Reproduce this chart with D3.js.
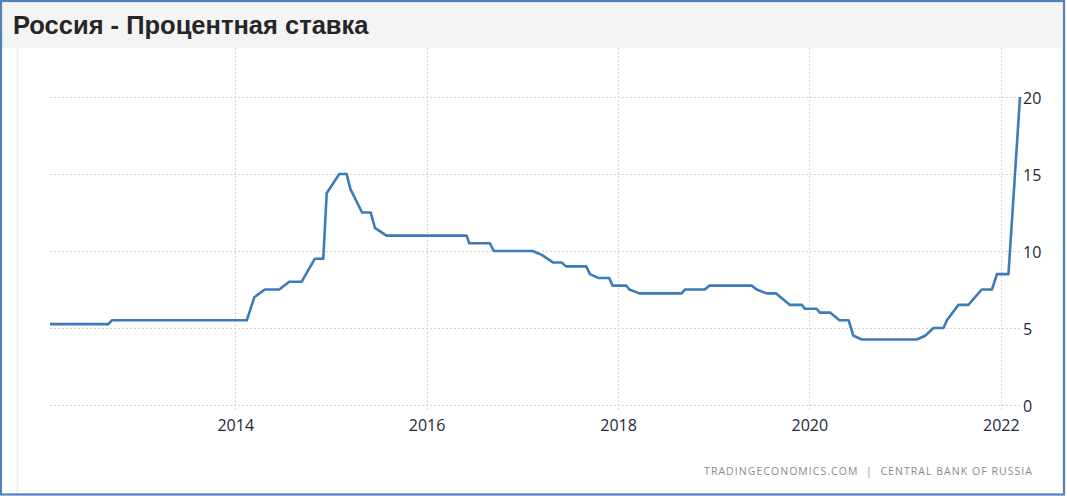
<!DOCTYPE html>
<html><head><meta charset="utf-8">
<script src="https://cdn.jsdelivr.net/npm/d3@7"></script>
<style>html,body{margin:0;padding:0;background:#fff;}svg{display:block;}</style>
</head><body>
<script>
const title = "Россия - Процентная ставка";
const source = "TRADINGECONOMICS.COM  |  CENTRAL BANK OF RUSSIA";
const dates = ["2012-01-25","2012-09-04","2012-09-17","2014-02-14","2014-03-15","2014-04-24","2014-06-18","2014-07-26","2014-09-11","2014-11-01","2014-12-03","2014-12-16","2015-02-02","2015-03-02","2015-03-17","2015-04-30","2015-06-02","2015-06-18","2015-08-01","2016-06-02","2016-06-12","2016-08-30","2016-09-14","2017-02-09","2017-03-16","2017-04-29","2017-05-31","2017-06-16","2017-09-01","2017-09-16","2017-10-17","2017-11-28","2017-12-11","2018-02-01","2018-02-13","2018-03-23","2018-09-01","2018-09-13","2018-11-28","2018-12-15","2019-05-26","2019-06-14","2019-07-22","2019-08-26","2019-10-19","2019-12-03","2019-12-15","2020-01-29","2020-02-10","2020-03-20","2020-04-25","2020-05-30","2020-06-17","2020-07-20","2021-02-14","2021-03-18","2021-04-19","2021-05-27","2021-06-09","2021-07-23","2021-08-30","2021-10-20","2021-11-28","2021-12-17","2022-01-30","2022-03-15"];
const rates = [5.25,5.25,5.5,5.5,7.0,7.5,7.5,8.0,8.0,9.5,9.5,13.75,15.0,15.0,14.0,12.5,12.5,11.5,11.0,11.0,10.5,10.5,10.0,10.0,9.75,9.25,9.25,9.0,9.0,8.5,8.25,8.25,7.75,7.75,7.5,7.25,7.25,7.5,7.5,7.75,7.75,7.5,7.25,7.25,6.5,6.5,6.25,6.25,6.0,6.0,5.5,5.5,4.5,4.25,4.25,4.5,5.0,5.0,5.5,6.5,6.5,7.5,7.5,8.5,8.5,20.0];
const xTickYears = [2014, 2016, 2018, 2020, 2022];
const yTicks = [0, 5, 10, 15, 20];

const W = 1067, H = 496;
const parse = d3.timeParse("%Y-%m-%d");
const data = dates.map((d, i) => ({date: parse(d), value: rates[i]}));

const svg = d3.select("body").append("svg").attr("width", W).attr("height", H);

// title bar
svg.append("rect").attr("x", 2).attr("y", 2).attr("width", 1061).attr("height", 46).attr("fill", "#f4f4f4");
svg.append("text").attr("x", 13).attr("y", 33.5).text(title)
  .attr("font-family", "'Liberation Sans', Arial, sans-serif").attr("font-weight", "bold")
  .attr("font-size", 25.5).attr("fill", "#262626");

// left panel line
svg.append("line").attr("x1", 17.5).attr("x2", 17.5).attr("y1", 48).attr("y2", 494)
  .attr("stroke", "#ececec").attr("stroke-width", 1.5);

const x = d3.scaleTime().domain(d3.extent(data, d => d.date)).range([50, 1020]);
const y = d3.scaleLinear().domain([0, 20]).range([405, 97]);

const tickDates = xTickYears.map(yr => new Date(yr, 0, 1));
const font = "'Segoe UI', 'Open Sans', 'Noto Sans', sans-serif";

// vertical grid
svg.append("g").selectAll("line").data(tickDates).join("line")
  .attr("x1", d => Math.round(x(d)) + 0.5).attr("x2", d => Math.round(x(d)) + 0.5)
  .attr("y1", 48).attr("y2", 412)
  .attr("stroke", "#d4d4d4").attr("stroke-dasharray", "2,2");

// horizontal grid
svg.append("g").selectAll("line").data(yTicks).join("line")
  .attr("x1", 50).attr("x2", 1020)
  .attr("y1", d => Math.round(y(d)) + 0.5).attr("y2", d => Math.round(y(d)) + 0.5)
  .attr("stroke", "#d4d4d4").attr("stroke-dasharray", "2,2");

// axes via d3 axis generators (styled)
const xAxis = svg.append("g").attr("transform", "translate(0,411)")
  .call(d3.axisBottom(x).tickValues(tickDates).tickFormat(d3.timeFormat("%Y")).tickSize(0).tickPadding(9));
xAxis.select(".domain").remove();
xAxis.selectAll("text").attr("font-family", font).attr("font-size", 16).attr("fill", "#26263a");

const yAxis = svg.append("g").attr("transform", "translate(1020,0)")
  .call(d3.axisRight(y).tickValues(yTicks).tickFormat(d3.format("d")).tickSize(0).tickPadding(3));
yAxis.select(".domain").remove();
yAxis.selectAll("text").attr("font-family", font).attr("font-size", 16).attr("fill", "#26263a").attr("dy", "0.4em");

// line
svg.append("path").datum(data)
  .attr("fill", "none").attr("stroke", "#3a7bb8").attr("stroke-width", 2.6)
  .attr("stroke-linejoin", "round")
  .attr("d", d3.line().x(d => x(d.date)).y(d => y(d.value)));

// source
svg.append("text").attr("x", 1033).attr("y", 475).attr("text-anchor", "end")
  .attr("font-family", font).attr("font-size", 10.5).attr("letter-spacing", 1.05)
  .attr("fill", "#8a8a8a").attr("xml:space", "preserve").style("white-space", "pre").text(source);

// outer border
svg.append("rect").attr("x", 1).attr("y", 1).attr("width", 1063).attr("height", 493.5)
  .attr("fill", "none").attr("stroke", "#4f81bd").attr("stroke-width", 2.2);
</script>
</body></html>
